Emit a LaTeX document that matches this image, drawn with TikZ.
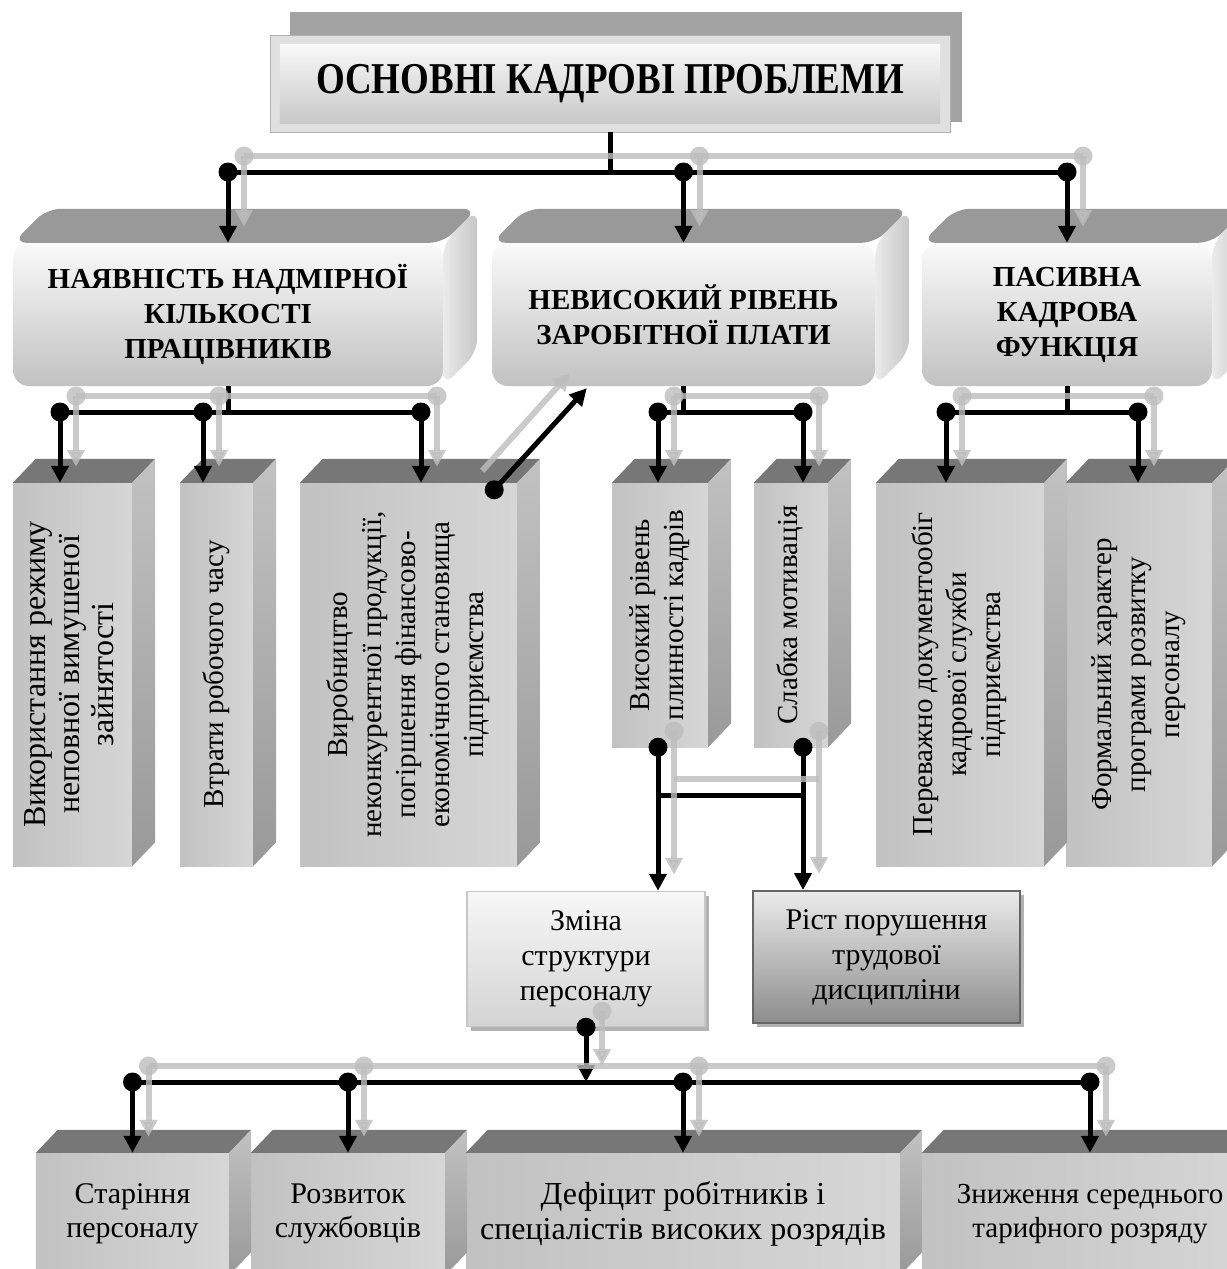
\documentclass[tikz,border=0pt]{standalone}
\usepackage{fontspec}
\setmainfont{Liberation Serif}
\usepackage{graphicx}
\usetikzlibrary{arrows.meta,calc,positioning,shadows}
\definecolor{lidA}{HTML}{999999}
\definecolor{lidB}{HTML}{777777}
\definecolor{ghostG}{HTML}{BDBDBD}

% text of a column, read from bottom to top
\newcommand\vtext[1]{\rotatebox{90}{\begin{tabular}{@{}c@{}}#1\end{tabular}}}
% lid and right side of a box whose front face is node #2
\newcommand\sides[5][]{%
  \fill[#4,#1] (#2.north west) -- ++(#3) -- ($(#2.north east)+(#3)$) -- (#2.north east) -- cycle;
  \shade[#5,#1] (#2.north east) -- ++(#3) -- ($(#2.south east)+(#3)$) -- (#2.south east) -- cycle;}

\begin{document}
\begin{tikzpicture}[x=1bp,y=-1bp,
  head/.style={draw=black!30,line width=.8bp,fill=black!12,minimum width=680bp,minimum height=97bp,inner sep=0pt,
    font=\fontsize{44bp}{48bp}\selectfont\bfseries,
    path picture={\shade[top color=white,bottom color=black!24]
      ($(path picture bounding box.north west)+(10,9)$) rectangle ($(path picture bounding box.south east)+(-10,-9)$);}},
  big/.style={rounded corners=16bp,top color=black!2,bottom color=black!24,minimum height=143bp,inner sep=0pt,
    align=center,font=\fontsize{29bp}{35bp}\selectfont\bfseries},
  col/.style={left color=black!24,middle color=black!4,right color=black!16,inner sep=0pt,
    font=\fontsize{29bp}{34bp}\selectfont},
  low/.style={col,align=center,minimum height=122bp,font=\fontsize{30bp}{34bp}\selectfont},
  pane/.style={draw=black!22,line width=1.5bp,top color=black!3,bottom color=black!17,minimum width=238bp,
    minimum height=135bp,align=center,font=\fontsize{30bp}{35bp}\selectfont,
    drop shadow={shadow xshift=4bp,shadow yshift=-4bp,fill=black!30,opacity=1}},
  paneD/.style={pane,draw=black!60,line width=2bp,top color=black!8,bottom color=black!45,drop shadow={opacity=0}},
  tip/.style={-{Triangle[length=17bp,width=17bp]}}]
\useasboundingbox (0,0) rectangle (1227,1269);
% levels of the buses
\coordinate (lv1) at (0,172);
\coordinate (lv2) at (0,412);
\coordinate (lv3) at (0,795);
\coordinate (lv4) at (0,1082);
% title
\fill[black!36] (290,12) rectangle (962,122);
\node[head] (top) at (610,83.5) {\scalebox{.84}[1]{ОСНОВНІ КАДРОВІ ПРОБЛЕМИ}};
% three main problems
\node[big,minimum width=430bp] (b1) at (228,314.5) {НАЯВНІСТЬ НАДМІРНОЇ\\КІЛЬКОСТІ\\ПРАЦІВНИКІВ};
\node[big,minimum width=383bp] (b2) at (683.5,314.5) {НЕВИСОКИЙ РІВЕНЬ\\ЗАРОБІТНОЇ ПЛАТИ};
\node[big,minimum width=290bp] (b3) at (1067,314.5) {ПАСИВНА\\КАДРОВА\\ФУНКЦІЯ};
\foreach \n in {b1,b2,b3}
  \sides[rounded corners=14bp]{\n}{34,-34}{lidA}{left color=black!8,right color=black!22};
% columns
\node[col,minimum width=119bp,minimum height=383bp,font=\fontsize{32bp}{34bp}\selectfont] (c1) at (72.5,674.5) {\vtext{Використання режиму\\неповної вимушеної\\зайнятості}};
\node[col,minimum width=73bp,minimum height=383bp] (c2) at (216.5,674.5) {\vtext{Втрати робочого часу}};
\node[col,minimum width=217bp,minimum height=383bp] (c3) at (408.5,674.5) {\vtext{Виробництво\\неконкурентної продукції,\\погіршення фінансово-\\економічного становища\\підприємства}};
\node[col,minimum width=96bp,minimum height=264bp] (c4) at (660,615) {\vtext{Високий рівень\\плинності кадрів}};
\node[col,minimum width=74bp,minimum height=264bp] (c5) at (791,615) {\vtext{Слабка мотивація}};
\node[col,minimum width=168bp,minimum height=383bp] (c6) at (960,674.5) {\vtext{Переважно документообіг\\кадрової служби\\підприємства}};
\node[col,minimum width=146bp,minimum height=383bp] (c7) at (1139,674.5) {\vtext{Формальний характер\\програми розвитку\\персоналу}};
\foreach \n in {c1,c2,c3,c4,c5,c6,c7}
  \sides{\n}{23,-24}{lidB}{top color=black!24,bottom color=black!40};
% consequences of the wage level
\node[pane] (d1) at (586,959) {Зміна\\структури\\персоналу};
\node[paneD,minimum width=267bp,minimum height=132bp] (d2) at (886.5,957) {Ріст порушення\\трудової\\дисципліни};
% bottom row
\node[low,minimum width=193bp] (e1) at (132.5,1214) {Старіння\\персоналу};
\node[low,minimum width=194bp] (e2) at (348,1214) {Розвиток\\службовців};
\node[low,minimum width=434bp,font=\fontsize{32bp}{35bp}\selectfont] (e3) at (683,1214) {Дефіцит робітників і\\спеціалістів високих розрядів};
\node[low,minimum width=336bp,font=\fontsize{29bp}{34bp}\selectfont] (e4) at (1090,1214) {Зниження середнього\\тарифного розряду};
\foreach \n in {e1,e2,e3,e4}
  \sides{\n}{22,-23}{lidB}{top color=black!24,bottom color=black!40};
% junctions on the second bus
\coordinate (p1) at (60,412);
\coordinate (p2) at (203,412);
\coordinate (p3) at (421,412);
\coordinate (q1) at (658,412);
\coordinate (q2) at (803,412);
\coordinate (u1) at (946,412);
\coordinate (u2) at (1138,412);
% stubs out of the boxes
\draw[line width=5bp] (top.south) -- (top.south |- lv1);
\foreach \n in {b1,b2,b3}
  \draw[line width=5bp] (\n.south) -- (\n.south |- lv2);
% wires: black first, then the pale copy shifted up and right
\foreach \dx/\dy/\cl/\lw/\op in {0/0/black/5/1,16/-16/ghostG/6/.8}{
  \begin{scope}[color=\cl,line width=\lw bp,opacity=\op]
  \draw ($(b1.north |- lv1)+(\dx,\dy)$) -- ($(b3.north |- lv1)+(\dx,\dy)$);
  \foreach \n in {b1,b2,b3}{
    \draw[tip] ($(\n.north |- lv1)+(\dx,\dy)$) -- ($(\n.north)+(\dx,\dy)$);
    \fill ($(\n.north |- lv1)+(\dx,\dy)$) circle[radius=9.5bp];
  }
  \draw ($(p1)+(\dx,\dy)$) -- ($(p3)+(\dx,\dy)$);
  \draw ($(q1)+(\dx,\dy)$) -- ($(q2)+(\dx,\dy)$);
  \draw ($(u1)+(\dx,\dy)$) -- ($(u2)+(\dx,\dy)$);
  \foreach \j/\n in {p1/c1,p2/c2,p3/c3,q1/c4,q2/c5,u1/c6,u2/c7}{
    \draw[tip] ($(\j)+(\dx,\dy)$) -- ($(\j |- \n.north)+(\dx,\dy)$);
    \fill ($(\j)+(\dx,\dy)$) circle[radius=9.5bp];
  }
  \foreach \j/\n/\m in {q1/c4/d1,q2/c5/d2}{
    \draw[tip] ($(\j |- \n.south)+(\dx,\dy)$) -- ($(\j |- \m.north)+(\dx,\dy)$);
    \fill ($(\j |- \n.south)+(\dx,\dy)$) circle[radius=9.5bp];
  }
  \draw ($(q1 |- lv3)+(\dx,\dy)$) -- ($(q2 |- lv3)+(\dx,\dy)$);
  \draw[tip] ($(d1.south)+(\dx,\dy)$) -- ($(d1.south |- lv4)+(\dx,\dy)$);
  \fill ($(d1.south)+(\dx,\dy)$) circle[radius=9.5bp];
  \draw ($(e1.north |- lv4)+(\dx,\dy)$) -- ($(e4.north |- lv4)+(\dx,\dy)$);
  \foreach \n in {e1,e2,e3,e4}{
    \draw[tip] ($(\n.north |- lv4)+(\dx,\dy)$) -- ($(\n.north)+(\dx,\dy)$);
    \fill ($(\n.north |- lv4)+(\dx,\dy)$) circle[radius=9.5bp];
  }
  \end{scope}
}
% loss of output feeds back to the wage level
\draw[tip,line width=5bp] ($(c3.north east)+(-23,7)$) -- ($(b2.south west)+(95,2)$);
\fill ($(c3.north east)+(-23,7)$) circle[radius=9.5bp];
\draw[tip,ghostG,line width=6bp,opacity=.8] ($(c3.north east)+(-35,-12)$) -- ($(b2.south west)+(78,-13)$);
\end{tikzpicture}
\end{document}
